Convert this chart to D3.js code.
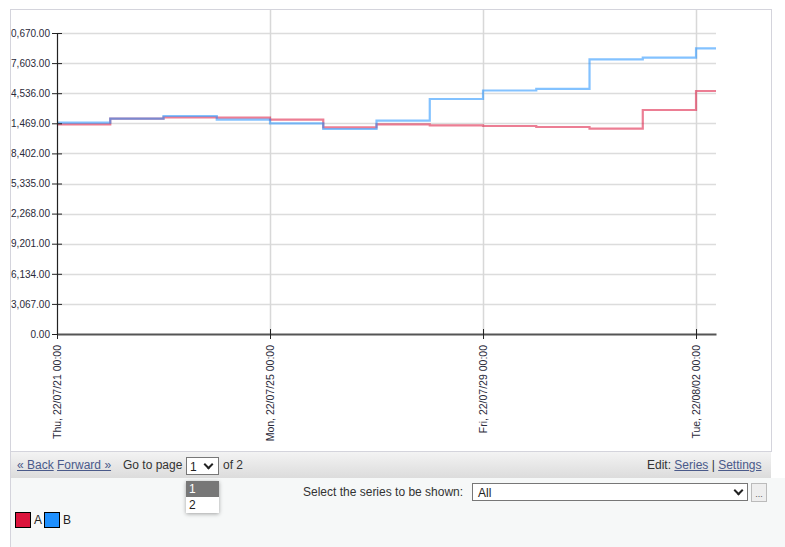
<!DOCTYPE html>
<html><head><meta charset="utf-8">
<script src="https://cdn.jsdelivr.net/npm/d3@7"></script>
<style>
html,body{margin:0;padding:0;width:785px;height:547px;overflow:hidden;background:#fff;font-family:"Liberation Sans",Arial,sans-serif;}
#bottom{position:absolute;left:10px;top:478px;width:775px;height:69px;background:#f6f8f8;border-left:1px solid #d4d4dc;}
#toolbar{position:absolute;left:11px;top:452px;width:760px;height:26px;background:linear-gradient(#f3f3f3,#dcdcdc);font-size:12px;color:#333;border-left:1px solid #d4d4dc;margin-left:-1px;}
#toolbar a{color:#4a5a8a;text-decoration:underline;}
.abs{position:absolute;white-space:nowrap;}
.sel{position:absolute;background:#fff;border:1px solid #777;box-sizing:border-box;font-size:12px;color:#222;}
.chev{position:absolute;width:5px;height:5px;border-right:2px solid #222;border-bottom:2px solid #222;transform:rotate(45deg);}
</style></head>
<body>
<svg id="chart" width="785" height="547" style="position:absolute;left:0;top:0"></svg>
<div id="toolbar">
  <span class="abs" style="left:6px;top:6px"><a>« Back</a> <a>Forward »</a></span>
  <span class="abs" style="left:112px;top:6px">Go to page</span>
  <div class="sel" style="left:175px;top:5px;width:33px;height:18px"><span class="abs" style="left:3px;top:2px">1</span><div class="chev" style="left:18px;top:3px"></div></div>
  <span class="abs" style="left:212px;top:6px">of 2</span>
  <span class="abs" style="left:636px;top:6px">Edit: <a>Series</a> | <a>Settings</a></span>
</div>
<div id="bottom">
  <span class="abs" style="left:292px;top:7px;font-size:12px;color:#333">Select the series to be shown:</span>
  <div class="sel" style="left:461px;top:5px;width:276px;height:18px"><span class="abs" style="left:5px;top:2px">All</span><div class="chev" style="left:262px;top:3px"></div></div>
  <div class="abs" style="left:740px;top:5px;width:16px;height:19px;border:1px solid #bbb;box-sizing:border-box;background:#eee;font-size:9px;color:#555;text-align:center;line-height:20px">...</div>
  <div class="abs" id="legend" style="left:4px;top:34px;font-size:12px;color:#222"></div>
</div>
<div class="abs" style="left:186px;top:481px;width:33px;height:32px;background:#fff;box-shadow:0 1px 4px rgba(0,0,0,0.35);font-size:12px">
  <div style="height:16px;background:#777;color:#fff;padding-left:3px;line-height:16px">1</div>
  <div style="height:16px;color:#222;padding-left:3px;line-height:16px">2</div>
</div>
<script>
const dates = ["2022-07-21","2022-07-22","2022-07-23","2022-07-24","2022-07-25","2022-07-26","2022-07-27","2022-07-28","2022-07-29","2022-07-30","2022-07-31","2022-08-01","2022-08-02"];
const seriesA = [21368,21938,22080,22040,21836,21062,21368,21266,21194,21092,20920,22824,24760];
const seriesB = [21530,21938,22213,21836,21469,20888,21734,23945,24811,24985,27990,28153,29111];
const seriesNames = ["A","B"];
const seriesColors = ["#dc143c","#1e90ff"];
const yTicks = [0,3067,6134,9201,12268,15335,18402,21469,24536,27603,30670];
const xTickDates = ["2022-07-21","2022-07-25","2022-07-29","2022-08-02"];
const xEnd = "2022-08-02T09:00";

const parse = s => new Date(s.length===10 ? s+"T00:00" : s);
const svg = d3.select("#chart");
const defs = svg.append("defs");
defs.append("clipPath").attr("id","pc").append("rect").attr("x",11).attr("y",10).attr("width",760).attr("height",441);

// panel
svg.append("rect").attr("x",10.5).attr("y",9.5).attr("width",761).attr("height",442).attr("fill","#fff").attr("stroke","#d4d4dc");

const x = d3.scaleTime().domain([parse(dates[0]), parse(xEnd)]).range([57,716]);
const y = d3.scaleLinear().domain([0,30670]).range([334,33]);

const g = svg.append("g").attr("clip-path","url(#pc)");

// gridlines
g.selectAll(".hg").data(yTicks.slice(1)).join("line")
  .attr("x1",57).attr("x2",716).attr("y1",d=>Math.round(y(d))+0.5).attr("y2",d=>Math.round(y(d))+0.5)
  .attr("stroke","#dcdcdc").attr("stroke-width",1.5);
g.selectAll(".vg").data(xTickDates.slice(1)).join("line")
  .attr("x1",d=>Math.round(x(parse(d)))+0.5).attr("x2",d=>Math.round(x(parse(d)))+0.5).attr("y1",10).attr("y2",334)
  .attr("stroke","#d8d8d8").attr("stroke-width",1.5);

// lines
const line = d3.line().curve(d3.curveStepAfter).x(d=>x(d[0])).y(d=>y(d[1]));
[seriesA, seriesB].forEach((vals,i)=>{
  const pts = dates.map((d,j)=>[parse(d), vals[j]]);
  pts.push([parse(xEnd), vals[vals.length-1]]);
  g.append("path").datum(pts).attr("d",line).attr("fill","none")
    .attr("stroke",seriesColors[i]).attr("stroke-opacity",0.55).attr("stroke-width",2.2);
});

// y axis
const ya = g.append("g").attr("transform","translate(57,0)")
  .call(d3.axisLeft(y).tickValues(yTicks).tickFormat(d3.format(",.2f")).tickSize(5).tickSizeOuter(0));
ya.select(".domain").attr("stroke","#222").attr("stroke-width",1.2);
ya.selectAll(".tick line").attr("x2",5).attr("x1",-5).attr("stroke","#222");
ya.selectAll("text").attr("x",-7).attr("font-size",10).attr("font-family","'Liberation Sans',Arial,sans-serif").attr("fill","#2a2a3a");

// x axis
const xa = g.append("g").attr("transform","translate(0,334)")
  .call(d3.axisBottom(x).tickValues(xTickDates.map(parse)).tickFormat(d3.timeFormat("%a, %y/%m/%d %H:%M")).tickSize(5).tickSizeOuter(0));
xa.select(".domain").attr("stroke","#555").attr("stroke-width",2);
xa.selectAll(".tick line").attr("y1",-5).attr("y2",5).attr("stroke","#222");
xa.selectAll("text").attr("transform","rotate(-90)").attr("text-anchor","end")
  .attr("x",-11).attr("y",0).attr("dy","0.35em")
  .attr("font-size",10.5).attr("font-family","'Liberation Sans',Arial,sans-serif").attr("fill","#2a2a3a");

// legend
const lg = d3.select("#legend");
seriesNames.forEach((n,i)=>{
  lg.append("span").style("display","inline-block").style("width","14px").style("height","14px")
    .style("background",seriesColors[i]).style("border","1px solid #000").style("vertical-align","middle");
  lg.append("span").text(n).style("margin","0 2px 0 3px").style("vertical-align","middle");
});
</script>
</body></html>
